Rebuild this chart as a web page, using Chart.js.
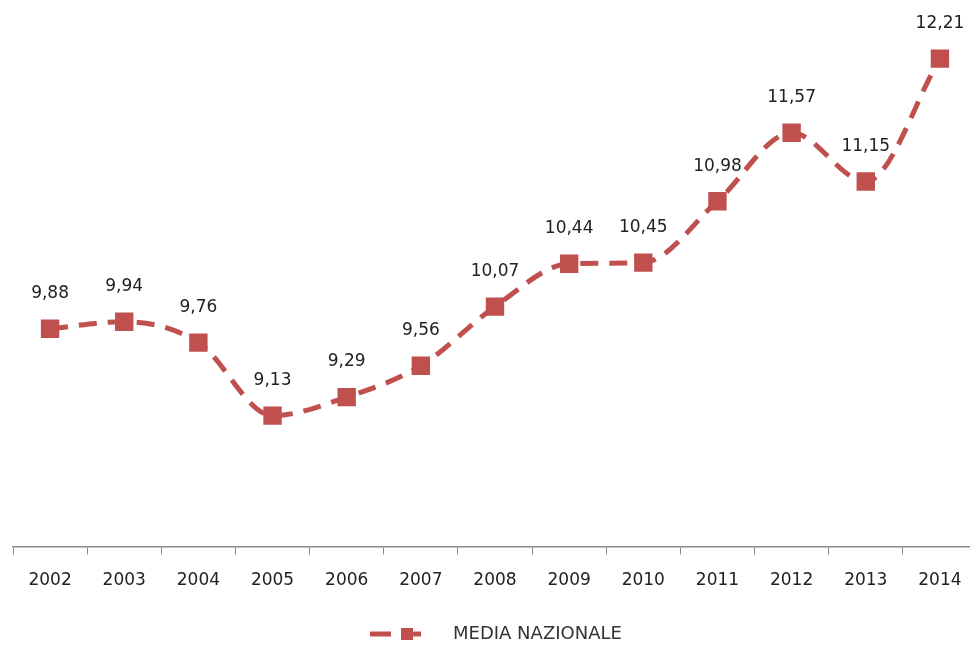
<!DOCTYPE html>
<html>
<head>
<meta charset="utf-8">
<script src="https://cdn.jsdelivr.net/npm/chart.js@4"></script>
<style>
  html, body { margin: 0; padding: 0; background: #fff; overflow: hidden; }
  #wrap { width: 990px; height: 650px; }
</style>
</head>
<body>
<div id="wrap"><canvas id="linechart" width="990" height="650"></canvas></div>
<script>
const years = ['2002', '2003', '2004', '2005', '2006', '2007', '2008', '2009', '2010', '2011', '2012', '2013', '2014'];
const mediaNazionale = [9.88, 9.94, 9.76, 9.13, 9.29, 9.56, 10.07, 10.44, 10.45, 10.98, 11.57, 11.15, 12.21];
const seriesName = 'MEDIA NAZIONALE';

const red = '#c0504d';
const fontFamily = '"DejaVu Sans", Verdana, sans-serif';

// value labels above each point, with decimal comma
const valueLabels = {
  id: 'valueLabels',
  afterDatasetsDraw(chart) {
    const ctx = chart.ctx;
    const meta = chart.getDatasetMeta(0);
    ctx.save();
    ctx.font = '17px ' + fontFamily;
    ctx.fillStyle = '#222';
    ctx.textAlign = 'center';
    ctx.textBaseline = 'middle';
    meta.data.forEach((pt, i) => {
      const txt = mediaNazionale[i].toFixed(2).replace('.', ',');
      ctx.fillText(txt, pt.x, pt.y - 35);
    });
    ctx.restore();
  }
};

// legend: dashed line with square marker, then the series name
const bottomLegend = {
  id: 'bottomLegend',
  afterDraw(chart) {
    const ctx = chart.ctx;
    const y = 634;
    ctx.save();
    ctx.strokeStyle = red;
    ctx.lineWidth = 5;
    ctx.beginPath();
    ctx.moveTo(370, y);
    ctx.lineTo(391, y);
    ctx.moveTo(410, y);
    ctx.lineTo(421, y);
    ctx.stroke();
    ctx.fillStyle = red;
    ctx.fillRect(401, y - 6, 12, 12);
    ctx.font = '18px ' + fontFamily;
    ctx.fillStyle = '#333';
    ctx.textAlign = 'left';
    ctx.textBaseline = 'middle';
    ctx.fillText(seriesName, 453, y);
    ctx.restore();
  }
};

const ctx1 = document.getElementById('linechart').getContext('2d');

const linechart = new Chart(ctx1, {
  type: 'line',
  data: {
    labels: years,
    datasets: [{
      label: seriesName,
      data: mediaNazionale,
      borderColor: red,
      backgroundColor: red,
      borderWidth: 5,
      borderDash: [18, 11],
      cubicInterpolationMode: 'monotone',
      pointStyle: 'rect',
      pointRadius: 13,
      pointBorderWidth: 0,
      pointBackgroundColor: red
    }]
  },
  options: {
    responsive: false,
    animation: false,
    layout: {
      padding: { top: 25, left: 10, right: 9, bottom: 43 }
    },
    plugins: {
      legend: { display: false },
      tooltip: { enabled: false }
    },
    scales: {
      x: {
        offset: true,
        grid: {
          offset: true,
          drawOnChartArea: false,
          tickLength: 8,
          color: '#8a8a8a'
        },
        border: { color: '#8a8a8a', width: 1.5 },
        ticks: {
          color: '#222',
          font: { family: fontFamily, size: 17 },
          padding: 16
        }
      },
      y: {
        display: false,
        min: 8,
        max: 12.5
      }
    }
  },
  plugins: [valueLabels, bottomLegend]
});
</script>
</body>
</html>
